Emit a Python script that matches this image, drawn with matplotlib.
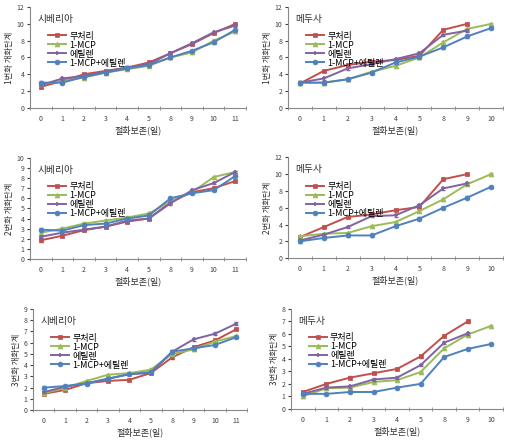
import matplotlib.pyplot as plt
import numpy as np

plt.rcParams['font.family'] = ['Noto Sans CJK KR', 'DejaVu Sans']

# categories (days of vase life)
days_sib = ['0', '1', '2', '3', '4', '5', '8', '9', '10', '11']
days_med = ['0', '1', '2', '3', '4', '5', '8', '9', '10']
series_names = ['무처리', '1-MCP', '에틸렌', '1-MCP+에틸렌']

# 1st flower - Siberia
sib1_ctrl = [2.5, 3.2, 4.0, 4.4, 4.8, 5.4, 6.5, 7.6, 8.9, 10.0]
sib1_mcp = [2.8, 3.2, 3.6, 4.2, 4.6, 5.0, 6.0, 6.6, 8.0, 9.1]
sib1_eth = [2.7, 3.5, 3.8, 4.3, 4.8, 5.2, 6.5, 7.7, 9.0, 9.8]
sib1_both = [3.0, 3.0, 3.7, 4.2, 4.7, 5.1, 6.0, 6.8, 7.8, 9.3]

# 1st flower - Medusa
med1_ctrl = [2.9, 4.4, 5.1, 5.5, 5.7, 6.2, 9.3, 10.0]
med1_mcp = [3.0, 3.0, 3.4, 4.3, 5.0, 6.0, 7.8, 9.4, 10.0]
med1_eth = [3.0, 3.5, 4.7, 5.2, 5.8, 6.5, 8.7, 9.2]
med1_both = [3.0, 3.0, 3.4, 4.2, 5.4, 6.1, 7.2, 8.5, 9.5]

# 2nd flower - Siberia
sib2_ctrl = [1.85, 2.3, 2.85, 3.2, 3.7, 4.0, 5.6, 6.6, 7.0, 7.7]
sib2_mcp = [2.6, 3.0, 3.5, 3.8, 4.1, 4.5, 5.7, 6.6, 8.1, 8.6]
sib2_eth = [2.2, 2.6, 2.9, 3.2, 3.8, 4.0, 5.5, 6.8, 7.5, 8.6]
sib2_both = [2.9, 2.8, 3.35, 3.5, 4.0, 4.3, 6.0, 6.5, 6.8, 8.2]

# 2nd flower - Medusa
med2_ctrl = [2.5, 3.7, 4.9, 5.2, 5.7, 6.1, 9.4, 10.0]
med2_mcp = [2.6, 2.9, 3.0, 3.8, 4.3, 5.6, 7.0, 8.8, 10.0]
med2_eth = [2.1, 2.8, 3.7, 5.0, 5.1, 6.3, 8.3, 8.9]
med2_both = [2.0, 2.4, 2.7, 2.7, 3.8, 4.7, 6.0, 7.2, 8.5]

# 3rd flower - Siberia
sib3_ctrl = [1.45, 1.8, 2.4, 2.6, 2.7, 3.3, 4.7, 5.6, 6.2, 7.2]
sib3_mcp = [1.5, 2.0, 2.6, 3.15, 3.3, 3.6, 5.0, 5.4, 6.1, 6.6]
sib3_eth = [1.6, 2.1, 2.4, 2.8, 3.2, 3.3, 5.2, 6.3, 6.8, 7.7]
sib3_both = [2.0, 2.15, 2.35, 2.8, 3.2, 3.4, 5.2, 5.5, 5.8, 6.5]

# 3rd flower - Medusa
med3_ctrl = [1.35, 2.0, 2.5, 2.85, 3.2, 4.2, 5.85, 7.0]
med3_mcp = [1.0, 1.65, 1.7, 2.15, 2.3, 2.95, 4.85, 5.95, 6.65]
med3_eth = [1.2, 1.7, 1.8, 2.35, 2.5, 3.5, 5.3, 6.05]
med3_both = [1.2, 1.2, 1.35, 1.35, 1.7, 2.0, 4.15, 4.8, 5.2]

colors = ['#C0504D', '#9BBB59', '#8064A2', '#4F81BD']
markers = ['s', '^', '+', 'o']

panels = [
    ([0.058, 0.756, 0.418, 0.228], '시베리아', days_sib,
     [sib1_ctrl, sib1_mcp, sib1_eth, sib1_both], 12, 2, '1번화 개화단계'),
    ([0.557, 0.756, 0.416, 0.228], '메두사', days_med,
     [med1_ctrl, med1_mcp, med1_eth, med1_both], 12, 2, '1번화 개화단계'),
    ([0.058, 0.414, 0.418, 0.229], '시베리아', days_sib,
     [sib2_ctrl, sib2_mcp, sib2_eth, sib2_both], 10, 1, '2번화 개화단계'),
    ([0.557, 0.416, 0.416, 0.228], '메두사', days_med,
     [med2_ctrl, med2_mcp, med2_eth, med2_both], 12, 2, '2번화 개화단계'),
    ([0.064, 0.072, 0.414, 0.229], '시베리아', days_sib,
     [sib3_ctrl, sib3_mcp, sib3_eth, sib3_both], 9, 1, '3번화 개화단계'),
    ([0.563, 0.075, 0.410, 0.226], '메두사', days_med,
     [med3_ctrl, med3_mcp, med3_eth, med3_both], 8, 1, '3번화 개화단계'),
]

fig = plt.figure(figsize=(5.17, 4.42), dpi=100)

for rect, name, days, series, ymax, ystep, ylabel in panels:
    ax = fig.add_axes(rect)
    n = len(days)
    err = ymax * 0.012
    for vals, lab, c, m in zip(series, series_names, colors, markers):
        x = np.arange(len(vals))
        ax.errorbar(x, vals, yerr=err, fmt='none', ecolor=c,
                    elinewidth=0.7, capsize=1.5)
        ax.plot(x, vals, color=c, marker=m, markersize=3.5,
                markeredgewidth=1.2 if m == '+' else 0.5, linewidth=1.4,
                label=lab)
    ax.set_xlim(-0.5, n - 0.5)
    ax.set_ylim(0, ymax)
    ax.set_yticks(np.arange(0, ymax + 0.01, ystep))
    ax.set_xticks(np.arange(n))
    ax.set_xticklabels(days)
    ax.set_xticks(np.arange(n + 1) - 0.5, minor=True)
    ax.tick_params(axis='x', which='major', length=0, labelsize=5, pad=5, colors='#404040')
    ax.tick_params(axis='x', which='minor', length=2.5, direction='inout', color='#888888')
    ax.tick_params(axis='y', length=2, labelsize=5, pad=2, colors='#404040')
    for s in ['top', 'right']:
        ax.spines[s].set_visible(False)
    for s in ['left', 'bottom']:
        ax.spines[s].set_color('#888888')
        ax.spines[s].set_linewidth(0.8)
    ax.set_xlabel('절화보존(일)', fontsize=6.5, labelpad=2, color='#303030')
    ax.set_ylabel(ylabel, fontsize=6, labelpad=2, color='#303030')
    ax.text(0.035, 0.88, name, transform=ax.transAxes, fontsize=7, color='#303030',
            va='center')
    ax.legend(loc='upper left', bbox_to_anchor=(0.06, 0.81), frameon=False,
              fontsize=6.5, handlelength=2.0, handletextpad=0.3, labelspacing=0.0,
              borderpad=0.1)

fig.savefig('out.png', dpi=100)
